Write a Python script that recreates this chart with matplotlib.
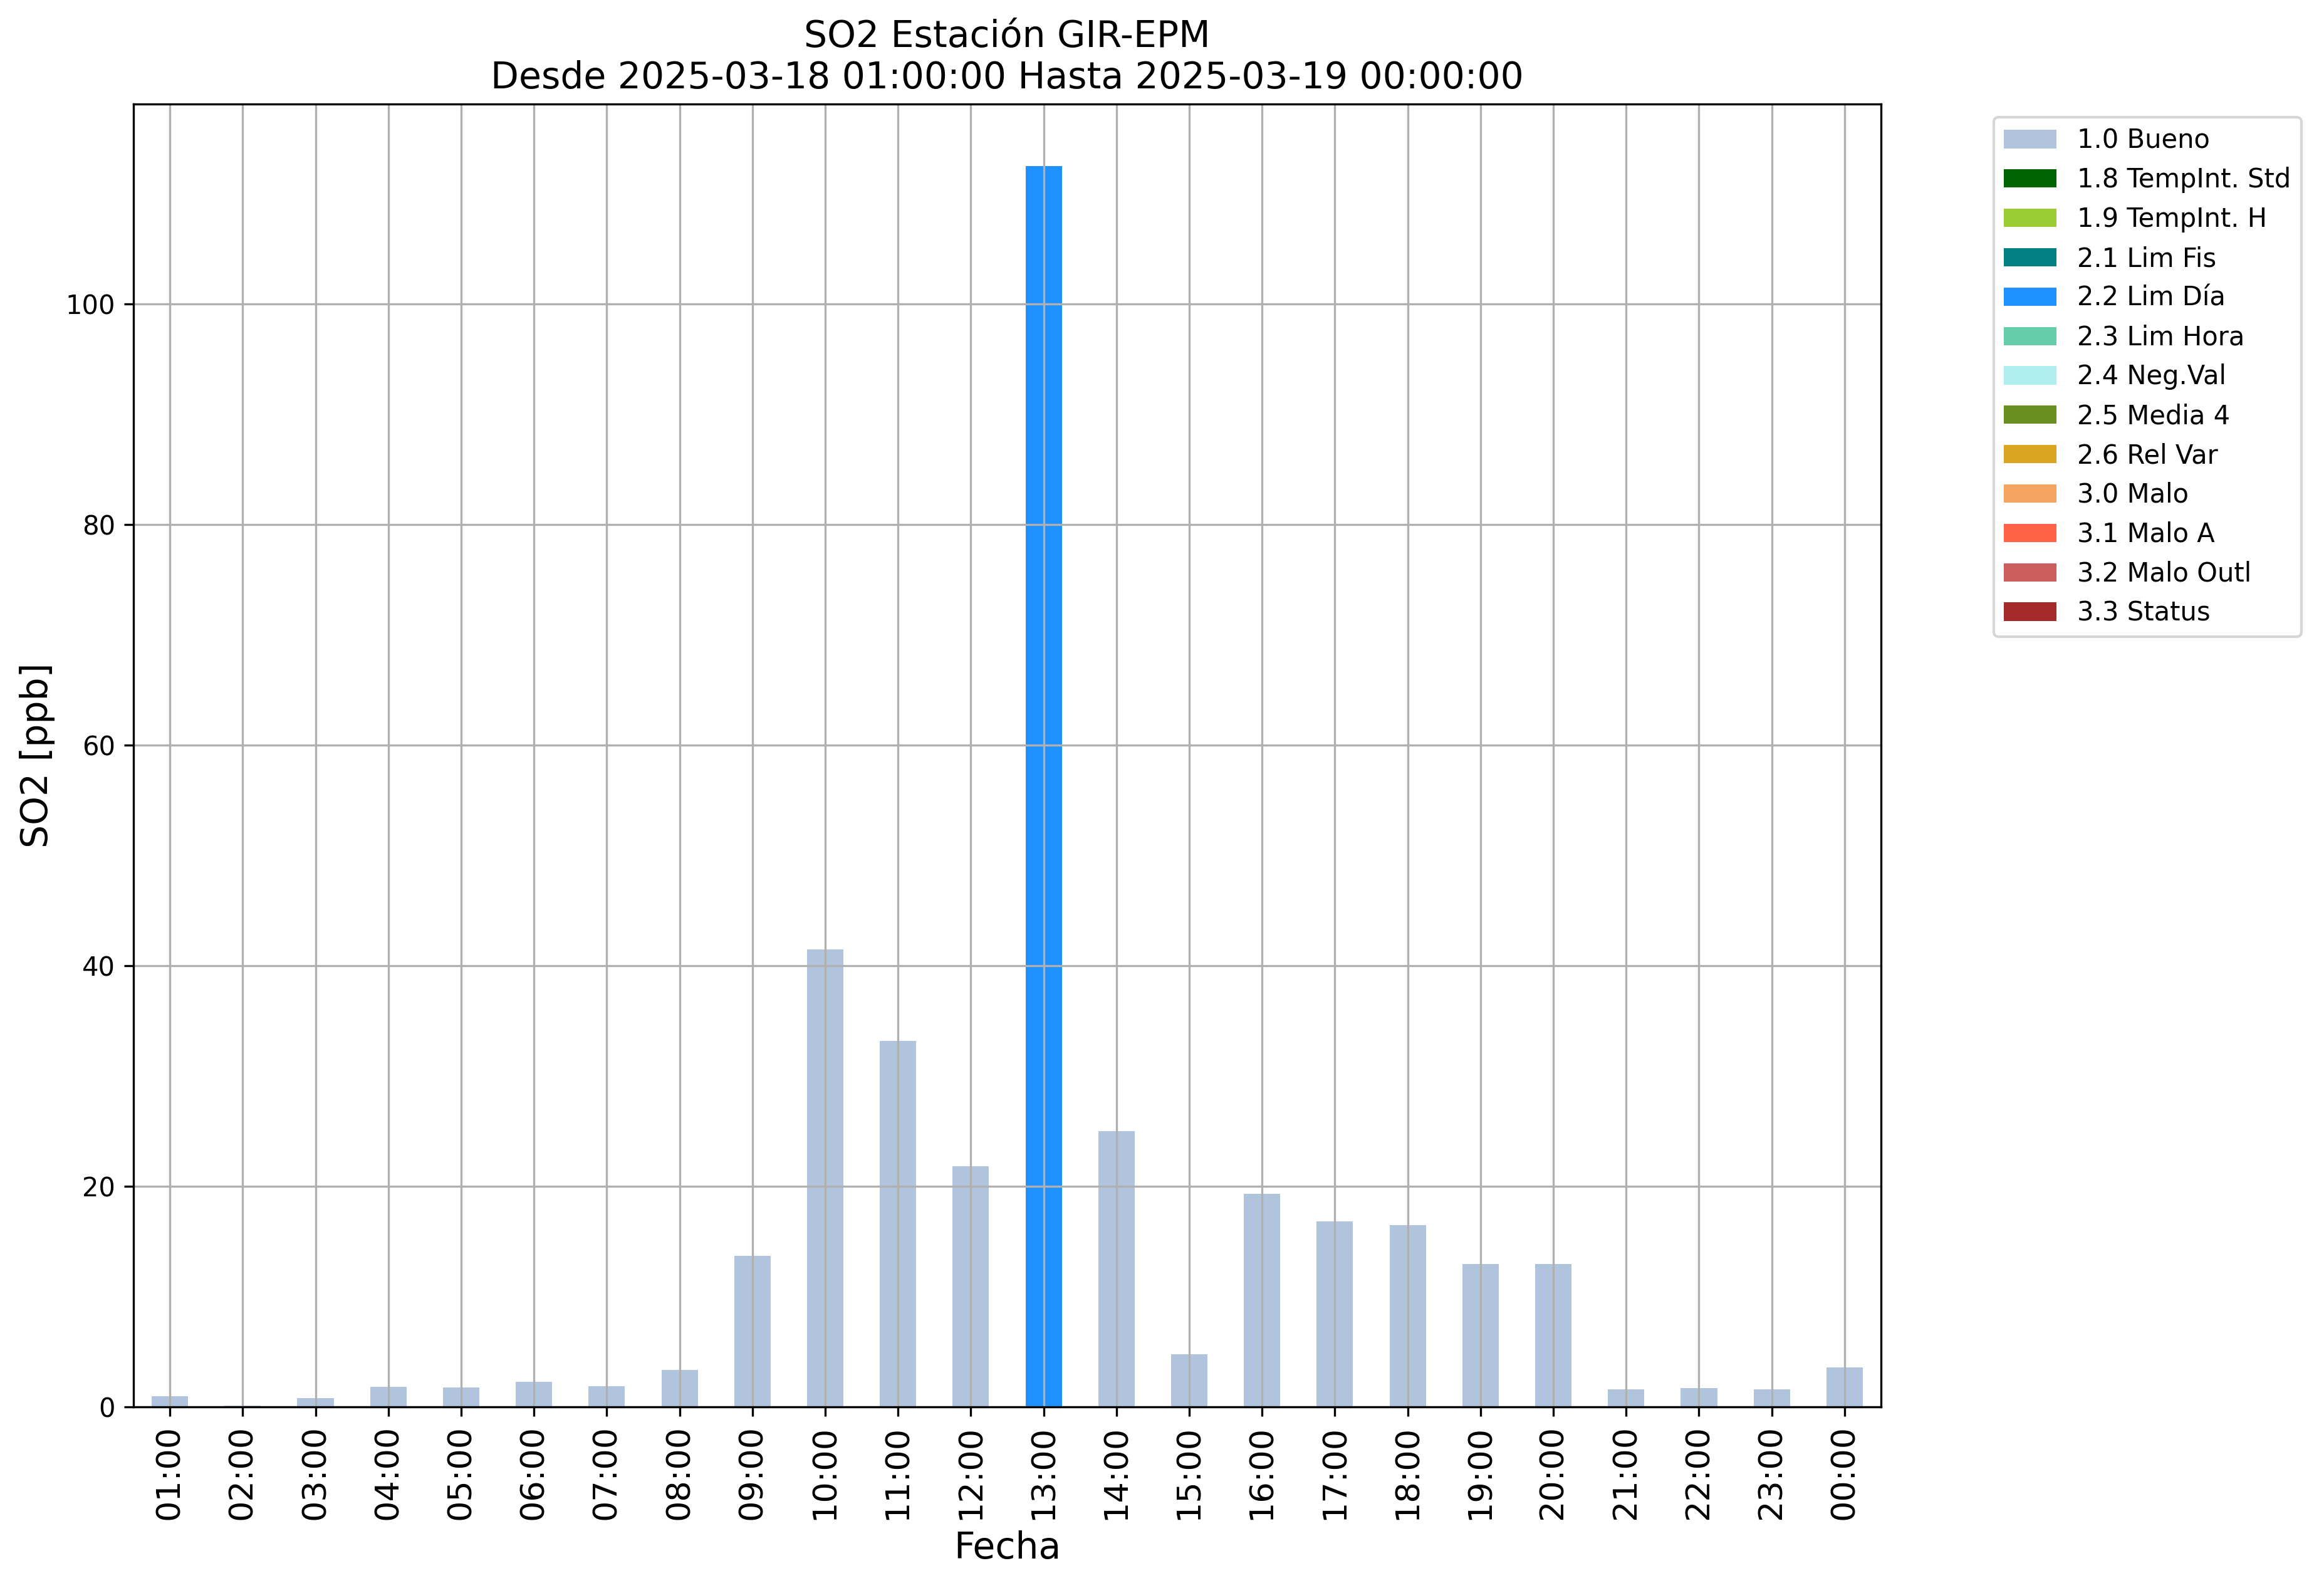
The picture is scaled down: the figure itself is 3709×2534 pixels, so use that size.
import matplotlib
matplotlib.use("Agg")
import matplotlib.pyplot as plt
import numpy as np

# ---- data ----
hours = ["01:00", "02:00", "03:00", "04:00", "05:00", "06:00", "07:00", "08:00",
         "09:00", "10:00", "11:00", "12:00", "13:00", "14:00", "15:00", "16:00",
         "17:00", "18:00", "19:00", "20:00", "21:00", "22:00", "23:00", "00:00"]
so2_values = [0.95, 0.1, 0.78, 1.8, 1.74, 2.25, 1.9, 3.33,
              13.7, 41.5, 33.2, 21.8, 112.5, 25.0, 4.8, 19.3,
              16.8, 16.5, 12.95, 12.95, 1.6, 1.73, 1.6, 3.6]
flags = ["1.0 Bueno"] * 12 + ["2.2 Lim Día"] + ["1.0 Bueno"] * 11

flag_labels = ["1.0 Bueno", "1.8 TempInt. Std", "1.9 TempInt. H", "2.1 Lim Fis",
               "2.2 Lim Día", "2.3 Lim Hora", "2.4 Neg.Val", "2.5 Media 4",
               "2.6 Rel Var", "3.0 Malo", "3.1 Malo A", "3.2 Malo Outl", "3.3 Status"]
flag_colors = ["lightsteelblue", "darkgreen", "yellowgreen", "teal",
               "dodgerblue", "mediumaquamarine", "paleturquoise", "olivedrab",
               "goldenrod", "sandybrown", "tomato", "indianred", "brown"]

title_text = "SO2 Estación GIR-EPM\nDesde 2025-03-18 01:00:00 Hasta 2025-03-19 00:00:00"

# ---- plot ----
fig = plt.figure(figsize=(3709 / 300, 2534 / 300), dpi=300)
ax = fig.add_axes([213 / 3709, 1 - 2245 / 2534, (3002 - 213) / 3709, (2245 - 166) / 2534])

x = np.arange(len(hours))
vals = np.array(so2_values)
bottom = np.zeros(len(hours))
for lab, col in zip(flag_labels, flag_colors):
    h = np.array([v if f == lab else 0.0 for v, f in zip(vals, flags)])
    ax.bar(x, h, width=0.5, bottom=bottom, color=col, label=lab)
    bottom = bottom + h

ax.set_xlim(-0.5, len(hours) - 0.5)
ax.set_ylim(0, bottom.max() * 1.05)
ax.set_xticks(x)
ax.set_xticklabels(hours, rotation=90, fontsize=12.6)
ax.tick_params(axis="y", labelsize=10)
ax.grid(True, color="#b0b0b0", linewidth=0.8)
ax.set_xlabel("Fecha", fontsize=14)
ax.set_ylabel("SO2 [ppb]", fontsize=14)
ax.set_title(title_text, fontsize=14)
ax.legend(loc="upper left", bbox_to_anchor=(1.057, 1.0), fontsize=10)

fig.savefig("out.png", dpi=300)
